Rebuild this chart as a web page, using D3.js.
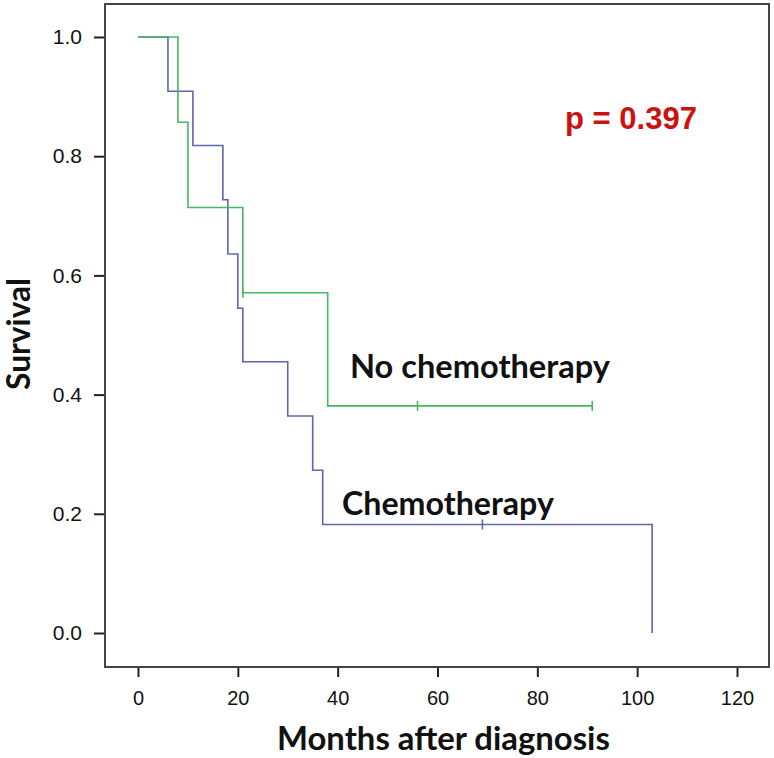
<!DOCTYPE html>
<html>
<head>
<meta charset="utf-8">
<script src="https://cdn.jsdelivr.net/npm/d3@7"></script>
<style>
  html, body { margin: 0; padding: 0; background: #fff; }
  svg { display: block; }
</style>
</head>
<body>
<svg id="chart" width="774" height="758"></svg>
<script>
// ---- Data ----
const xTicks = [0, 20, 40, 60, 80, 100, 120];
const yTicks = [0.0, 0.2, 0.4, 0.6, 0.8, 1.0];

// Chemotherapy group (Kaplan-Meier steps)
const chemoTimes = [0, 6, 11, 17, 18, 20, 21, 30, 35, 37, 103];
const chemoSurv  = [1.0, 0.909, 0.818, 0.727, 0.636, 0.545, 0.455, 0.364, 0.273, 0.182, 0.0];
const chemoEnd = 103;
const chemoCensorTimes = [69];
const chemoCensorSurv  = [0.182];

// No chemotherapy group
const noChemoTimes = [0, 8, 10, 21, 38];
const noChemoSurv  = [1.0, 0.857, 0.714, 0.571, 0.381];
const noChemoEnd = 91;
const noChemoCensorTimes = [21, 56, 91];
const noChemoCensorSurv  = [0.571, 0.381, 0.381];

const seriesLabels = ["Chemotherapy", "No chemotherapy"];
const pLabel = "p = 0.397";
const xTitle = "Months after diagnosis";
const yTitle = "Survival";

// ---- Layout ----
const svg = d3.select("#chart");
const frame = { left: 105, top: 4, right: 769, bottom: 667 };
const x = d3.scaleLinear().domain([0, 120]).range([138, 737]);
const y = d3.scaleLinear().domain([0, 1]).range([633, 37]);

const blue = "#5d67a9";
const green = "#48b763";
const textFont = "Lato, 'Open Sans', sans-serif";
const tickFont = "'Liberation Sans', Arial, sans-serif";

function fit(sel, target) {
  const n = sel.node();
  const fs = parseFloat(sel.attr("font-size"));
  const w = n.getComputedTextLength();
  sel.attr("font-size", (fs * target / w).toFixed(2));
}

// Axes
const yAxis = d3.axisLeft(y).tickValues(yTicks).tickFormat(d3.format(".1f"))
  .tickSize(11).tickSizeOuter(0).tickPadding(12);
const gy = svg.append("g").attr("transform", `translate(${frame.left},0)`).call(yAxis)
  .attr("font-family", tickFont).attr("font-size", 21);
gy.select(".domain").remove();
gy.selectAll(".tick line").attr("stroke", "#222").attr("stroke-width", 2);
gy.selectAll(".tick text").attr("fill", "#111");

const xAxis = d3.axisBottom(x).tickValues(xTicks).tickFormat(d3.format("d"))
  .tickSize(10).tickSizeOuter(0).tickPadding(14);
const gx = svg.append("g").attr("transform", `translate(0,${frame.bottom})`).call(xAxis)
  .attr("font-family", tickFont).attr("font-size", 20);
gx.select(".domain").remove();
gx.selectAll(".tick line").attr("stroke", "#222").attr("stroke-width", 2);
gx.selectAll(".tick text").attr("fill", "#111");

// Frame
svg.append("rect")
  .attr("x", frame.left).attr("y", frame.top)
  .attr("width", frame.right - frame.left).attr("height", frame.bottom - frame.top)
  .attr("fill", "none").attr("stroke", "#444").attr("stroke-width", 2);

// Curves
const line = d3.line().x(d => x(d[0])).y(d => y(d[1])).curve(d3.curveStepAfter);

function curvePts(times, surv, end) {
  const pts = times.map((t, i) => [t, surv[i]]);
  pts.push([end, surv[surv.length - 1]]);
  return pts;
}

function drawSeries(times, surv, end, cT, cS, color) {
  svg.append("path").datum(curvePts(times, surv, end))
    .attr("d", line).attr("fill", "none").attr("stroke", color).attr("stroke-width", 1.6);
  svg.append("g").selectAll("line").data(cT.map((t, i) => [t, cS[i]])).join("line")
    .attr("x1", d => x(d[0])).attr("x2", d => x(d[0]))
    .attr("y1", d => y(d[1]) - 5).attr("y2", d => y(d[1]) + 5)
    .attr("stroke", color).attr("stroke-width", 1.6);
}

drawSeries(chemoTimes, chemoSurv, chemoEnd, chemoCensorTimes, chemoCensorSurv, blue);
drawSeries(noChemoTimes, noChemoSurv, noChemoEnd, noChemoCensorTimes, noChemoCensorSurv, green);

// Labels
const t1 = svg.append("text").text(seriesLabels[1])
  .attr("x", 350).attr("y", 378).attr("font-family", textFont).attr("font-weight", "bold")
  .attr("font-size", 28).attr("fill", "#111");
fit(t1, 260);
const t2 = svg.append("text").text(seriesLabels[0])
  .attr("x", 342).attr("y", 515).attr("font-family", textFont).attr("font-weight", "bold")
  .attr("font-size", 28).attr("fill", "#111");
fit(t2, 212);

const tp = svg.append("text").text(pLabel)
  .attr("x", 565).attr("y", 129).attr("font-family", tickFont)
  .attr("font-weight", "bold").attr("font-size", 24).attr("fill", "#cc1111");
fit(tp, 132);

const tx = svg.append("text").text(xTitle)
  .attr("x", 277).attr("y", 750).attr("font-family", textFont).attr("font-weight", "bold")
  .attr("font-size", 28).attr("fill", "#111");
fit(tx, 333);

const ty = svg.append("text").text(yTitle)
  .attr("transform", "translate(30,334) rotate(-90)").attr("text-anchor", "middle")
  .attr("font-family", textFont).attr("font-weight", "bold")
  .attr("font-size", 24).attr("fill", "#111");
fit(ty, 112);
</script>
</body>
</html>
